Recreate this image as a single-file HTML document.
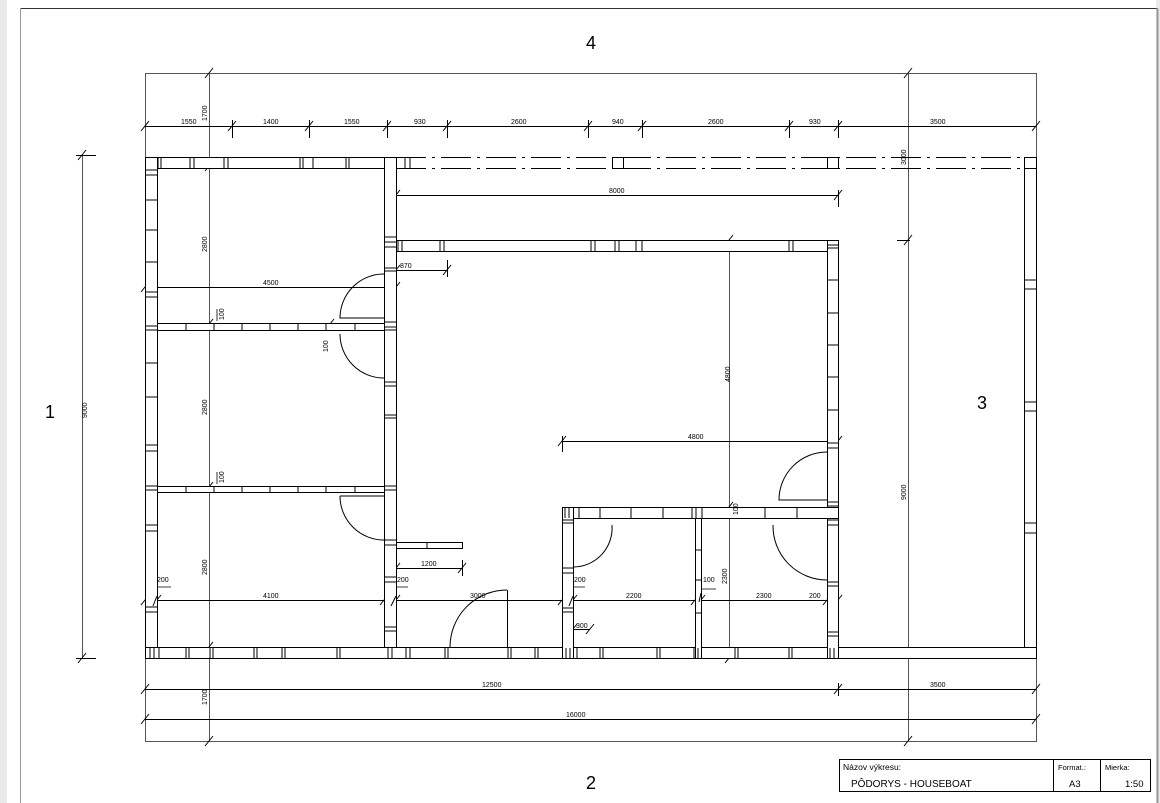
<!DOCTYPE html>
<html><head><meta charset="utf-8"><style>
html,body{margin:0;padding:0;background:#fff}
svg{display:block}
text{font-family:"Liberation Sans",sans-serif;fill:#000}
.d{font-size:7px}
</style></head><body>
<svg width="1160" height="803" viewBox="0 0 1160 803" xmlns="http://www.w3.org/2000/svg">
<defs>
<g id="t"><line x1="-4" y1="5" x2="4" y2="-5" stroke="#000" stroke-width="1"/></g>
</defs>
<rect x="0" y="0" width="7" height="803" fill="#eaeaea"/>
<rect x="1156" y="0" width="4" height="803" fill="#eaeaea"/>
<path d="M20.5 803 V8.5 H1157.5 V803" fill="none" stroke="#333" stroke-width="1"/>
<line x1="1157.5" y1="8" x2="1157.5" y2="803" stroke="#999" stroke-width="2"/>
<line x1="20.5" y1="8" x2="20.5" y2="803" stroke="#999" stroke-width="1"/>

<g stroke="#555" fill="none" stroke-width="1">
<rect x="145.5" y="73.5" width="891" height="668"/>
<line x1="209.5" y1="73" x2="209.5" y2="741"/>
<line x1="908.5" y1="73" x2="908.5" y2="741"/>
<line x1="82.5" y1="155" x2="82.5" y2="658"/>
<line x1="729.5" y1="240" x2="729.5" y2="658"/>
</g>

<g stroke="#000" stroke-width="1" fill="none">
<line x1="145" y1="126.5" x2="1036" y2="126.5"/>
<line x1="396" y1="195.5" x2="838" y2="195.5"/>
<line x1="396" y1="270.5" x2="447" y2="270.5"/>
<line x1="145" y1="287.5" x2="396" y2="287.5"/>
<line x1="562" y1="441.5" x2="838" y2="441.5"/>
<line x1="396" y1="568.5" x2="462" y2="568.5"/>
<line x1="145" y1="600.5" x2="838" y2="600.5"/>
<line x1="573" y1="629.5" x2="590" y2="629.5"/>
<line x1="145" y1="689.5" x2="1036" y2="689.5"/>
<line x1="145" y1="719.5" x2="1036" y2="719.5"/>
<line x1="76" y1="155.5" x2="96" y2="155.5"/>
<line x1="76" y1="658.5" x2="96" y2="658.5"/>
<line x1="897" y1="240.5" x2="910" y2="240.5"/>
<line x1="232.5" y1="120" x2="232.5" y2="138"/>
<line x1="309.5" y1="120" x2="309.5" y2="138"/>
<line x1="387.5" y1="120" x2="387.5" y2="138"/>
<line x1="447.5" y1="120" x2="447.5" y2="138"/>
<line x1="588.5" y1="120" x2="588.5" y2="138"/>
<line x1="642.5" y1="120" x2="642.5" y2="138"/>
<line x1="789.5" y1="120" x2="789.5" y2="138"/>
<line x1="838.5" y1="120" x2="838.5" y2="138"/>
<line x1="838.5" y1="190" x2="838.5" y2="207"/>
<line x1="447.5" y1="260" x2="447.5" y2="277"/>
<line x1="562.5" y1="436" x2="562.5" y2="452"/>
<line x1="462.5" y1="560" x2="462.5" y2="576"/>
<line x1="838.5" y1="683" x2="838.5" y2="696"/>
</g>
<g>
<use href="#t" x="145" y="126"/><use href="#t" x="232" y="126"/><use href="#t" x="309" y="126"/><use href="#t" x="387" y="126"/><use href="#t" x="447" y="126"/><use href="#t" x="588" y="126"/><use href="#t" x="642" y="126"/><use href="#t" x="789" y="126"/><use href="#t" x="838" y="126"/><use href="#t" x="1036" y="126"/>
<use href="#t" x="209" y="73"/><use href="#t" x="209" y="166"/><use href="#t" x="209" y="324"/><use href="#t" x="209" y="487"/><use href="#t" x="209" y="647"/><use href="#t" x="209" y="741"/>
<use href="#t" x="908" y="73"/><use href="#t" x="908" y="240"/><use href="#t" x="908" y="741"/>
<use href="#t" x="82" y="155"/><use href="#t" x="82" y="658"/>
<use href="#t" x="396" y="195"/><use href="#t" x="838" y="195"/>
<use href="#t" x="396" y="270"/><use href="#t" x="447" y="270"/>
<use href="#t" x="145" y="287"/><use href="#t" x="396" y="287"/>
<use href="#t" x="562" y="441"/><use href="#t" x="838" y="441"/>
<use href="#t" x="396" y="568"/><use href="#t" x="462" y="568"/>
<use href="#t" x="729" y="240"/><use href="#t" x="729" y="507"/><use href="#t" x="729" y="658"/>
<use href="#t" x="145" y="600"/><use href="#t" x="157" y="600"/><use href="#t" x="384" y="600"/><use href="#t" x="396" y="600"/><use href="#t" x="562" y="600"/><use href="#t" x="573" y="600"/><use href="#t" x="695" y="600"/><use href="#t" x="701" y="600"/><use href="#t" x="827" y="600"/><use href="#t" x="838" y="600"/>
<use href="#t" x="573" y="629"/><use href="#t" x="590" y="629"/>
<use href="#t" x="145" y="689"/><use href="#t" x="838" y="689"/><use href="#t" x="1036" y="689"/>
<use href="#t" x="145" y="719"/><use href="#t" x="1036" y="719"/>
<use href="#t" x="330" y="324"/>
</g>

<g stroke="#000" stroke-width="1" fill="#fff">
<rect x="145.5" y="157.5" width="245" height="11"/>
<rect x="145.5" y="157.5" width="12" height="501"/>
<rect x="384.5" y="157.5" width="12" height="501"/>
<rect x="145.5" y="647.5" width="891" height="11"/>
<rect x="1024.5" y="157.5" width="12" height="490"/>
<rect x="157.5" y="323.5" width="227" height="7"/>
<rect x="157.5" y="486.5" width="227" height="6"/>
<rect x="396.5" y="240.5" width="442" height="11"/>
<rect x="827.5" y="240.5" width="11" height="418"/>
<rect x="562.5" y="507.5" width="276" height="11"/>
<rect x="562.5" y="507.5" width="11" height="151"/>
<rect x="695.5" y="518.5" width="6" height="140"/>
<rect x="396.5" y="542.5" width="66" height="6"/>
</g>
<g stroke="#000" stroke-width="1" stroke-dasharray="30,6,3,6">
<line x1="396" y1="157.5" x2="1024" y2="157.5"/>
<line x1="396" y1="168.5" x2="1024" y2="168.5"/>
</g>
<g stroke="#000" fill="#fff" stroke-width="1">
<rect x="612.5" y="157.5" width="11" height="11"/>
<rect x="827.5" y="157.5" width="11" height="11"/>
<rect x="1024.5" y="157.5" width="12" height="11"/>
</g>
<g stroke="#000" stroke-width="1" fill="none">
<path d="M158 158v10M161 158v10M190 158v10M194 158v10M224 158v10M228 158v10M300 158v10M303 158v10M313 158v10M346 158v10M349 158v10M405 158v10M410 158v10"/>
<path d="M145 170h12M145 175h12M145 200h12M145 230h12M145 262h12M145 292h12M145 297h12M145 326h12M145 330h12M145 363h12M145 397h12M145 445h12M145 451h12M145 486h12M145 490h12M145 525h12M145 531h12M145 607h12M145 612h12"/>
<path d="M384 237h12M384 242h12M384 247h12M384 268h12M384 271h12M384 322h12M384 327h12M384 330h12M384 382h12M384 386h12M384 415h12M384 418h12M384 486h12M384 490h12M384 540h12M384 545h12M384 577h12M384 582h12M384 627h12M384 631h12"/>
<path d="M186 324v6M214 324v6M242 324v6M270 324v6M298 324v6M326 324v6M355 324v6M186 487v6M214 487v6M242 487v6M270 487v6M298 487v6M326 487v6M355 487v6M427 543v6"/>
<path d="M398 241v10M402 241v10M440 241v10M444 241v10M591 241v10M595 241v10M615 241v10M619 241v10M636 241v10M642 241v10M789 241v10M793 241v10M827 245h11M827 248h11"/>
<path d="M827 280h11M827 313h11M827 345h11M827 377h11M827 410h11M827 443h11M827 448h11M827 502h11M827 506h11M827 520h11M827 525h11M827 582h11M827 586h11M827 632h11M827 636h11"/>
<path d="M565 508v10M569 508v10M579 508v10M600 508v10M631 508v10M663 508v10M692 508v10M696 508v10M702 508v10M765 508v10M797 508v10M562 520h11M562 523h11M562 568h11M562 573h11M562 608h11M562 612h11M695 550h6M695 580h6M695 613h6"/>
<path d="M150 648v10M154 648v10M159 648v10M186 648v10M189 648v10M210 648v10M213 648v10M254 648v10M257 648v10M282 648v10M285 648v10M337 648v10M340 648v10M388 648v10M392 648v10M406 648v10M410 648v10M445 648v10M448 648v10M508 648v10M511 648v10M535 648v10M538 648v10M566 648v10M570 648v10M577 648v10M600 648v10M603 648v10M657 648v10M660 648v10M694 648v10M698 648v10M735 648v10M738 648v10M789 648v10M792 648v10M830 648v10M834 648v10"/>
<path d="M1024 280h12M1024 289h12M1024 402h12M1024 411h12M1024 523h12M1024 533h12"/>
</g>
<g stroke="#000" stroke-width="1" fill="none">
<path d="M384 274 A44 44 0 0 0 340 318 H384"/>
<path d="M340 334 A44 44 0 0 0 384 378"/>
<path d="M340 496 A44 44 0 0 0 384 540"/>
<path d="M340 496 H384"/>
<path d="M507 590 A57 57 0 0 0 450 647"/>
<line x1="507.5" y1="590" x2="507.5" y2="647"/>
<path d="M612 525 A39 39 0 0 1 573 567"/>
<path d="M773 525 A54 54 0 0 0 827 580"/>
<path d="M827 452 A48 48 0 0 0 779 500 H827"/>
<path d="M157 596 L153 606M396 596 L391 606M573 596 L569 606M701 593 L699 602"/>
</g>

<g class="d">
<text x="181" y="124">1550</text>
<text x="263" y="124">1400</text>
<text x="344" y="124">1550</text>
<text x="414" y="124">930</text>
<text x="511" y="124">2600</text>
<text x="612" y="124">940</text>
<text x="708" y="124">2600</text>
<text x="809" y="124">930</text>
<text x="930" y="124">3500</text>
<text x="609" y="193">8000</text>
<text x="400" y="268">870</text>
<text x="263" y="285">4500</text>
<text x="688" y="439">4800</text>
<text x="421" y="566">1200</text>
<text x="263" y="598">4100</text>
<text x="470" y="598">3000</text>
<text x="626" y="598">2200</text>
<text x="756" y="598">2300</text>
<text x="809" y="598">200</text>
<text x="157" y="582">200</text>
<text x="397" y="582">200</text>
<text x="574" y="582">200</text>
<text x="703" y="582">100</text>
<text x="576" y="628">300</text>
<text x="482" y="687">12500</text>
<text x="566" y="717">16000</text>
<text x="930" y="687">3500</text>
</g>
<g class="d">
<text transform="translate(207,121) rotate(-90)">1700</text>
<text transform="translate(207,252) rotate(-90)">2800</text>
<text transform="translate(207,415) rotate(-90)">2800</text>
<text transform="translate(207,575) rotate(-90)">2800</text>
<text transform="translate(207,705) rotate(-90)">1700</text>
<text transform="translate(224,320) rotate(-90)">100</text>
<text transform="translate(224,483) rotate(-90)">100</text>
<text transform="translate(328,352) rotate(-90)">100</text>
<text transform="translate(87,418) rotate(-90)">9000</text>
<text transform="translate(906,165) rotate(-90)">3000</text>
<text transform="translate(906,500) rotate(-90)">9000</text>
<text transform="translate(730,382) rotate(-90)">4800</text>
<text transform="translate(738,515) rotate(-90)">100</text>
<text transform="translate(727,584) rotate(-90)">2300</text>
</g>
<g stroke="#000" stroke-width="0.8">
<path d="M157 587h14M396 587h12M573 587h12M702 589h14M217 321v-12M217 484v-12"/>
</g>

<text x="586" y="49" style="font-size:18px">4</text>
<text x="586" y="789" style="font-size:18px">2</text>
<text x="45" y="418" style="font-size:18px">1</text>
<text x="977" y="409" style="font-size:18px">3</text>

<g stroke="#000" stroke-width="1" fill="none">
<rect x="839.5" y="759.5" width="311" height="32"/>
<line x1="1053.5" y1="759" x2="1053.5" y2="791"/>
<line x1="1100.5" y1="759" x2="1100.5" y2="791"/>
</g>
<text x="843" y="770" style="font-size:8.5px">Názov výkresu:</text>
<text x="851" y="787" style="font-size:10px">PÔDORYS - HOUSEBOAT</text>
<text x="1058" y="770" style="font-size:7.5px">Format.:</text>
<text x="1069" y="787" style="font-size:9.5px">A3</text>
<text x="1105" y="770" style="font-size:7.5px">Mierka:</text>
<text x="1125" y="787" style="font-size:9.5px">1:50</text>
</svg>
</body></html>
